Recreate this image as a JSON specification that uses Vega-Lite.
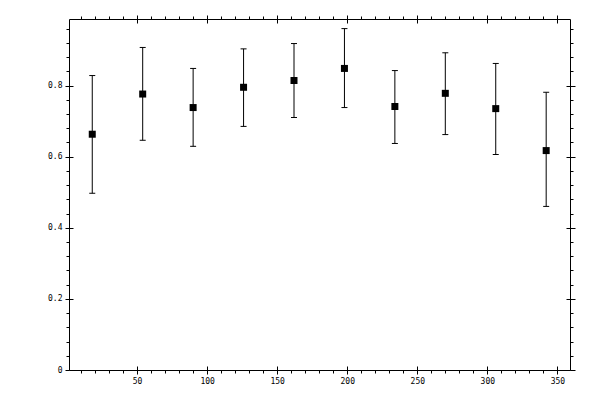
{
  "$schema": "https://vega.github.io/schema/vega-lite/v6.json",
  "width": 501,
  "height": 351,
  "autosize": {"type": "none"},
  "padding": {"left": 69, "top": 19, "right": 30, "bottom": 30},
  "background": "white",
  "config": {
    "view": {"stroke": "black", "strokeWidth": 1},
    "axis": {
      "domain": false,
      "grid": false,
      "tickColor": "black",
      "tickWidth": 1,
      "labelColor": "black",
      "labelFont": "DejaVu Sans Mono",
      "labelFontSize": 8,
      "labelOverlap": false,
      "labelFlush": false,
      "labelPadding": 3
    }
  },
  "data": {
    "values": [
      {"angle": 18, "val": 0.663, "lo": 0.497, "hi": 0.828},
      {"angle": 54, "val": 0.776, "lo": 0.646, "hi": 0.907},
      {"angle": 90, "val": 0.738, "lo": 0.629, "hi": 0.848},
      {"angle": 126, "val": 0.795, "lo": 0.685, "hi": 0.903},
      {"angle": 162, "val": 0.814, "lo": 0.710, "hi": 0.918},
      {"angle": 198, "val": 0.848, "lo": 0.738, "hi": 0.960},
      {"angle": 234, "val": 0.741, "lo": 0.637, "hi": 0.842},
      {"angle": 270, "val": 0.778, "lo": 0.662, "hi": 0.892},
      {"angle": 306, "val": 0.735, "lo": 0.606, "hi": 0.862},
      {"angle": 342, "val": 0.617, "lo": 0.460, "hi": 0.781}
    ]
  },
  "resolve": {"axis": {"x": "independent", "y": "independent"}},
  "layer": [
    {
      "mark": {"type": "rule", "color": "black", "strokeWidth": 1},
      "encoding": {
        "x": {
          "field": "angle", "type": "quantitative", "title": null,
          "scale": {"domain": [1.4, 359], "nice": false, "zero": false},
          "axis": {
            "orient": "bottom",
            "values": [10, 20, 30, 40, 50, 60, 70, 80, 90, 100, 110, 120, 130, 140, 150, 160, 170, 180, 190, 200, 210, 220, 230, 240, 250, 260, 270, 280, 290, 300, 310, 320, 330, 340, 350],
            "tickSize": {"condition": {"test": "datum.value % 50 == 0", "value": 4}, "value": 3},
            "labelExpr": "datum.value % 50 == 0 ? datum.label : ''"
          }
        },
        "y": {
          "field": "lo", "type": "quantitative", "title": null,
          "scale": {"domain": [0, 0.987], "nice": false, "zero": false},
          "axis": {
            "orient": "left",
            "values": [0, 0.04, 0.08, 0.12, 0.16, 0.2, 0.24, 0.28, 0.32, 0.36, 0.4, 0.44, 0.48, 0.52, 0.56, 0.6, 0.64, 0.68, 0.72, 0.76, 0.8, 0.84, 0.88, 0.92, 0.96],
            "tickSize": {"condition": {"test": "abs(datum.value * 5 - round(datum.value * 5)) < 0.000001", "value": 4}, "value": 3},
            "labelExpr": "abs(datum.value * 5 - round(datum.value * 5)) < 0.000001 ? format(datum.value, '.1~f') : ''"
          }
        },
        "y2": {"field": "hi"}
      }
    },
    {
      "mark": {"type": "tick", "orient": "horizontal", "size": 6, "thickness": 1, "color": "black", "opacity": 1},
      "encoding": {
        "x": {
          "field": "angle", "type": "quantitative", "title": null,
          "scale": {"domain": [1.4, 359], "nice": false, "zero": false},
          "axis": {"orient": "bottom", "values": [50, 100, 150, 200, 250, 300, 350], "tickSize": -4, "labels": false}
        },
        "y": {
          "field": "lo", "type": "quantitative", "title": null,
          "scale": {"domain": [0, 0.987], "nice": false, "zero": false},
          "axis": {"orient": "left", "values": [0, 0.2, 0.4, 0.6, 0.8], "tickSize": -4, "labels": false}
        }
      }
    },
    {
      "mark": {"type": "tick", "orient": "horizontal", "size": 6, "thickness": 1, "color": "black", "opacity": 1},
      "encoding": {
        "x": {
          "field": "angle", "type": "quantitative", "title": null,
          "scale": {"domain": [1.4, 359], "nice": false, "zero": false},
          "axis": {
            "orient": "top",
            "values": [10, 20, 30, 40, 50, 60, 70, 80, 90, 100, 110, 120, 130, 140, 150, 160, 170, 180, 190, 200, 210, 220, 230, 240, 250, 260, 270, 280, 290, 300, 310, 320, 330, 340, 350],
            "tickSize": {"condition": {"test": "datum.value % 50 == 0", "value": 4}, "value": 3},
            "labels": false
          }
        },
        "y": {
          "field": "hi", "type": "quantitative", "title": null,
          "scale": {"domain": [0, 0.987], "nice": false, "zero": false},
          "axis": {
            "orient": "right",
            "values": [0, 0.04, 0.08, 0.12, 0.16, 0.2, 0.24, 0.28, 0.32, 0.36, 0.4, 0.44, 0.48, 0.52, 0.56, 0.6, 0.64, 0.68, 0.72, 0.76, 0.8, 0.84, 0.88, 0.92, 0.96],
            "tickSize": {"condition": {"test": "abs(datum.value * 5 - round(datum.value * 5)) < 0.000001", "value": 5}, "value": 3},
            "labels": false
          }
        }
      }
    },
    {
      "mark": {"type": "point", "shape": "square", "filled": true, "size": 49, "color": "black", "opacity": 1, "strokeWidth": 0},
      "encoding": {
        "x": {
          "field": "angle", "type": "quantitative", "title": null,
          "scale": {"domain": [1.4, 359], "nice": false, "zero": false},
          "axis": {"orient": "top", "values": [50, 100, 150, 200, 250, 300, 350], "tickSize": -4, "labels": false}
        },
        "y": {
          "field": "val", "type": "quantitative", "title": null,
          "scale": {"domain": [0, 0.987], "nice": false, "zero": false},
          "axis": {"orient": "right", "values": [0, 0.2, 0.4, 0.6, 0.8], "tickSize": -4, "labels": false}
        }
      }
    }
  ]
}
